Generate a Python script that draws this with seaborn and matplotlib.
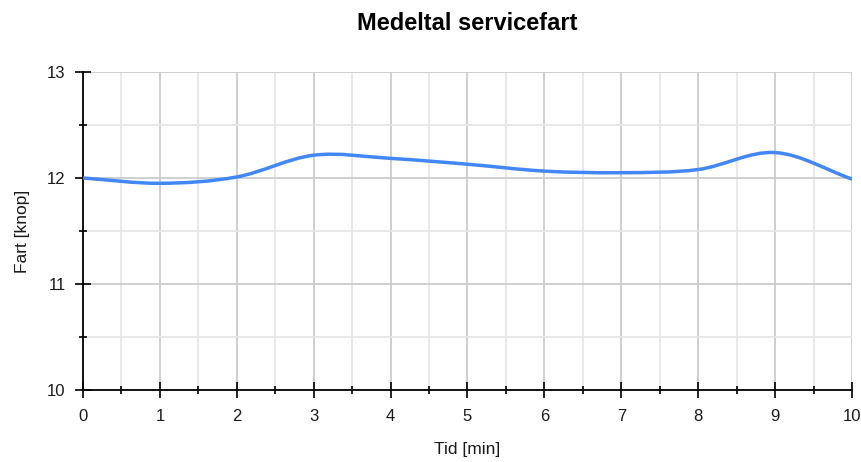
import numpy as np
import pandas as pd
import matplotlib
matplotlib.use("Agg")
import matplotlib.pyplot as plt
import seaborn as sns
from matplotlib.path import Path
from matplotlib.patches import PathPatch
from matplotlib.ticker import MultipleLocator

# data
tid = [0, 1, 2, 3, 4, 5, 6, 7, 8, 9, 10]
fart = [12.00, 11.95, 12.01, 12.215, 12.185, 12.13, 12.065, 12.05, 12.08, 12.24, 11.99]

df = pd.DataFrame({"Tid": tid, "Fart": fart})
line_color = "#4287f5"

sns.set_theme(style="white")
plt.rcParams['font.family'] = ['Liberation Sans', 'DejaVu Sans']

fig, ax = plt.subplots(figsize=(8.62, 4.62), dpi=100)
fig.subplots_adjust(left=83 / 862, right=852 / 862, top=1 - 72 / 462, bottom=1 - 390 / 462)

sns.lineplot(data=df, x="Tid", y="Fart", ax=ax, color=line_color, linewidth=2.5)

# replace the straight segments with a catmull-rom curve (bezier pieces)
ln = ax.lines[0]
xs, ys = ln.get_xydata().T
ln.remove()
n = len(xs)
m = np.zeros(n)
m[1:-1] = (ys[2:] - ys[:-2]) / (xs[2:] - xs[:-2])
m[0] = (ys[1] - ys[0]) / (xs[1] - xs[0])
m[-1] = (ys[-1] - ys[-2]) / (xs[-1] - xs[-2])
verts = [(xs[0], ys[0])]
codes = [Path.MOVETO]
for i in range(n - 1):
    h = xs[i + 1] - xs[i]
    verts += [(xs[i] + h / 3, ys[i] + m[i] * h / 3),
              (xs[i + 1] - h / 3, ys[i + 1] - m[i + 1] * h / 3),
              (xs[i + 1], ys[i + 1])]
    codes += [Path.CURVE4] * 3
ax.add_patch(PathPatch(Path(verts, codes), fill=False, edgecolor=line_color,
                       linewidth=2.5, capstyle="round", zorder=3))

ax.set_xlim(0, 10)
ax.set_ylim(10, 13)
ax.xaxis.set_major_locator(MultipleLocator(1))
ax.xaxis.set_minor_locator(MultipleLocator(0.5))
ax.yaxis.set_major_locator(MultipleLocator(1))
ax.yaxis.set_minor_locator(MultipleLocator(0.5))

ax.grid(which="major", color="#cccccc", linewidth=1.3)
ax.grid(which="minor", color="#e6e6e6", linewidth=1.3)
ax.set_axisbelow(True)

for s in ["top", "right"]:
    ax.spines[s].set_visible(False)
for s in ["left", "bottom"]:
    ax.spines[s].set_color("black")
    ax.spines[s].set_linewidth(1.3)

ax.tick_params(which="major", direction="inout", length=12, width=1.2, color="black",
               labelsize=12, labelcolor="#1a1a1a", bottom=True, left=True)
ax.tick_params(axis="x", which="major", pad=7.5)
ax.tick_params(axis="y", which="major", pad=6.5)
ax.tick_params(which="minor", direction="inout", length=6, width=1.2, color="black",
               bottom=True, left=True)

ax.set_title("Medeltal servicefart", fontsize=17, fontweight="bold", pad=30, color="black")
ax.set_xlabel("Tid [min]", fontsize=12.5, labelpad=13, color="#1a1a1a")
ax.set_ylabel("Fart [knop]", fontsize=12.5, labelpad=12, color="#1a1a1a")

fig.savefig("out.png", dpi=100)
